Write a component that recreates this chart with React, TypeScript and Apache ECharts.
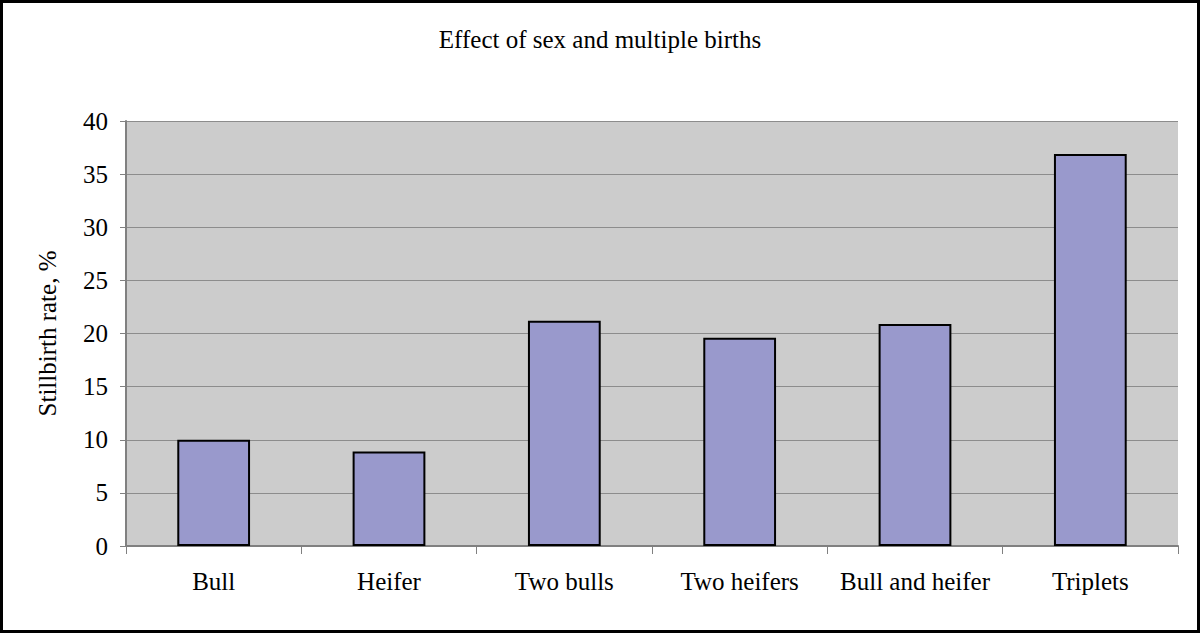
import React, { useEffect, useRef } from "react";
import * as echarts from "echarts";

const categories = ["Bull", "Heifer", "Two bulls", "Two heifers", "Bull and heifer", "Triplets"];
const stillbirthRates = [10.0, 8.9, 21.2, 19.6, 20.9, 36.9];
const yTicks = { min: 0, max: 40, interval: 5 };

const FONT = "'Liberation Serif', 'Times New Roman', serif";

export default function App() {
  const ref = useRef<HTMLDivElement>(null);
  useEffect(() => {
    if (!ref.current) return;
    const chart = echarts.init(ref.current, undefined, { renderer: "svg" });
    chart.setOption({
      animation: false,
      backgroundColor: "#ffffff",
      title: {
        text: "Effect of sex and multiple births",
        left: "center",
        top: 22,
        textStyle: { fontFamily: FONT, fontSize: 25, fontWeight: "normal", color: "#000" },
      },
      grid: { left: 126, right: 22, top: 121, bottom: 87, show: true, backgroundColor: "#cccccc", borderWidth: 0 },
      xAxis: {
        type: "category",
        data: categories,
        axisLine: { show: true, lineStyle: { color: "#808080", width: 2 } },
        axisTick: { show: true, length: 8, interval: 0, lineStyle: { color: "#808080", width: 1 } },
        axisLabel: { interval: 0, margin: 23, fontFamily: FONT, fontSize: 25, color: "#000" },
      },
      yAxis: {
        type: "value",
        min: yTicks.min,
        max: yTicks.max,
        interval: yTicks.interval,
        name: "Stillbirth rate, %",
        nameLocation: "middle",
        nameGap: 66,
        nameTextStyle: { fontFamily: FONT, fontSize: 25, color: "#000" },
        axisLine: { show: true, lineStyle: { color: "#808080", width: 2 } },
        axisTick: { show: true, length: 6, lineStyle: { color: "#808080", width: 1 } },
        axisLabel: { margin: 18, fontFamily: FONT, fontSize: 25, color: "#000" },
        splitLine: { show: true, lineStyle: { color: "#8c8c8c", width: 1 } },
      },
      series: [
        {
          type: "bar",
          data: stillbirthRates,
          barWidth: "41.5%",
          itemStyle: { color: "#9999cc", borderColor: "#000000", borderWidth: 2 },
        },
      ],
      graphic: [
        {
          type: "rect",
          shape: { x: 1.5, y: 1.5, width: 1197, height: 630 },
          style: { fill: "none", stroke: "#000", lineWidth: 3 },
          silent: true,
        },
      ],
    });
    return () => chart.dispose();
  }, []);
  return <div ref={ref} style={{ position: "fixed", left: 0, top: 0, width: 1200, height: 633 }} />;
}
